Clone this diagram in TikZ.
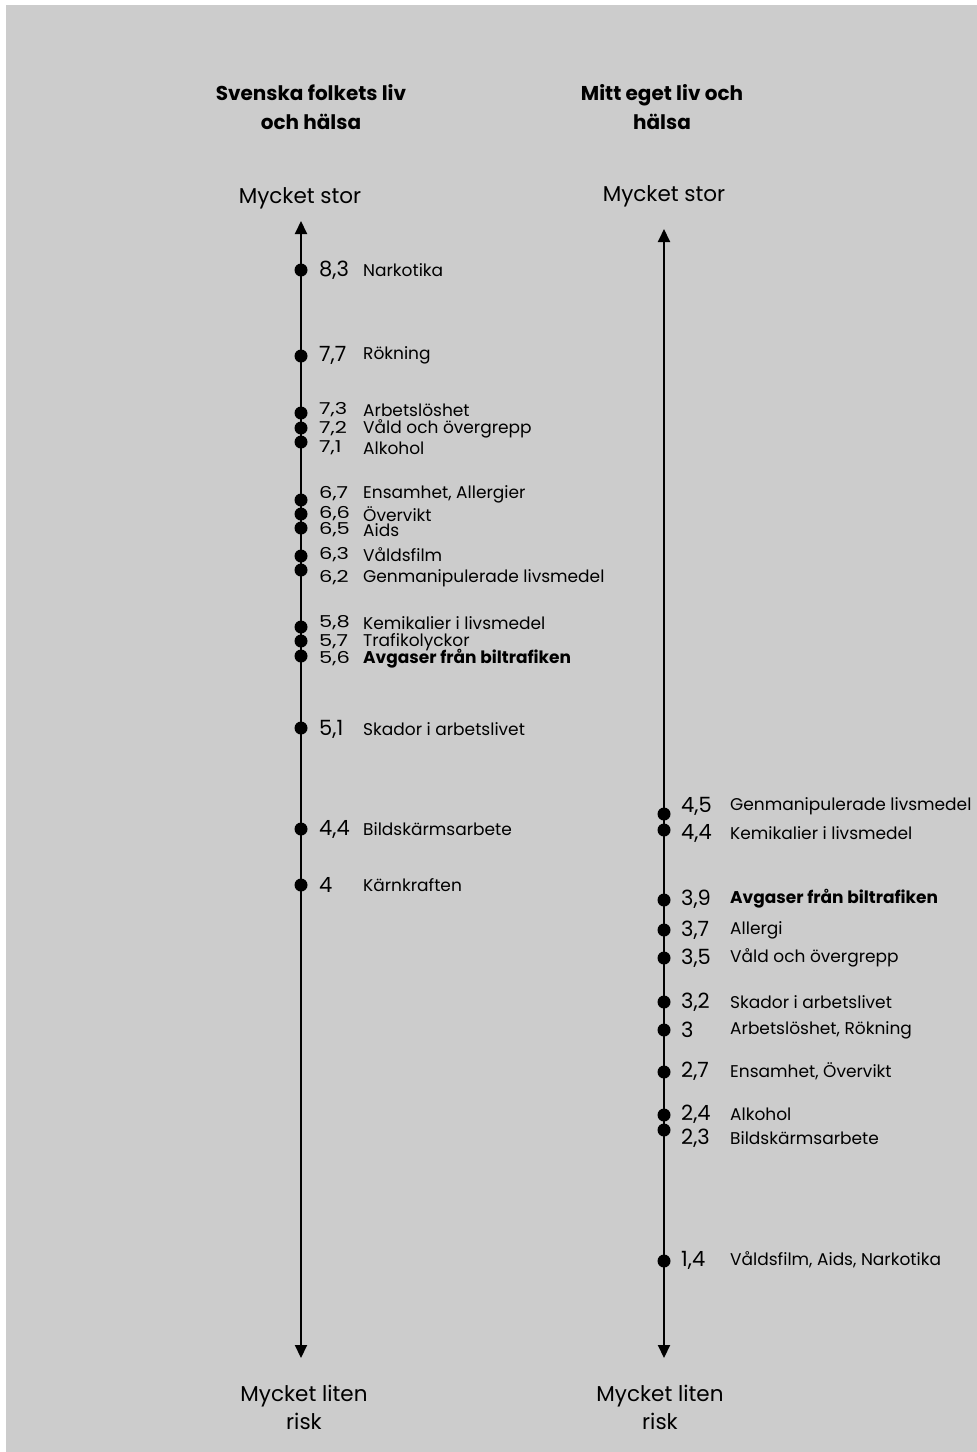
\documentclass[tikz,border=0pt]{standalone}
\usepackage{fontspec}
\setmainfont{Poppins}
\usetikzlibrary{arrows.meta}
\tikzset{
  dotn/.style={circle,fill=black,inner sep=0pt,minimum size=13pt},
  num/.style={anchor=west,inner sep=0pt,font=\fontsize{21}{22}\selectfont},
  lab/.style={anchor=west,inner sep=0pt,font=\fontsize{17}{18}\selectfont},
  labb/.style={anchor=west,inner sep=0pt,font=\fontsize{17}{18}\selectfont\bfseries},
  head/.style={align=center,inner sep=0pt,font=\fontsize{20}{29}\selectfont\bfseries},
  ends/.style={align=center,inner sep=0pt,font=\fontsize{21.5}{28}\selectfont},
  axis/.style={line width=2pt,{Triangle[length=13pt,width=12pt]}-{Triangle[length=13pt,width=12pt]}}
}
\newcommand{\fullnum}[1]{#1}
\newcommand{\tightnum}[1]{\scalebox{1}[0.78]{#1}}
\begin{document}
\begin{tikzpicture}[x=1pt,y=-1pt]
\useasboundingbox (0,0) rectangle (977,1452);
\fill[white] (0,0) rectangle (977,1452);
\fill[black!20] (6,5) rectangle (977,1452);

% headers
\node[head] (h1) at (311,107) {Svenska folkets liv\\och hälsa};
\node[head] (h2) at (662,107) {Mitt eget liv och\\hälsa};
\node[ends] (t1) at (300,198) {Mycket stor};
\node[ends] (t2) at (664,196) {Mycket stor};
\node[ends] (b1) at (304,1407) {Mycket liten\\risk};
\node[ends] (b2) at (660,1407) {Mycket liten\\risk};

% axes
\coordinate (a1t) at (301,221);
\coordinate (a1b) at (301,1358);
\coordinate (a2t) at (664,229);
\coordinate (a2b) at (664,1358);
\draw[axis] (a1t) -- (a1b);
\draw[axis] (a2t) -- (a2b);

% left column
\foreach \i/\dy/\ty/\n/\t/\s/\f in {
 1/270/270/{8,3}/{Narkotika}/lab/\fullnum,
 2/356/355/{7,7}/{Rökning}/lab/\fullnum,
 3/413/410/{7,3}/{Arbetslöshet}/lab/\tightnum,
 4/428/429/{7,2}/{Våld och övergrepp}/lab/\tightnum,
 5/442/448/{7,1}/{Alkohol}/lab/\tightnum,
 6/500/494/{6,7}/{Ensamhet, Allergier}/lab/\tightnum,
 7/514/514/{6,6}/{Övervikt}/lab/\tightnum,
 8/528/530/{6,5}/{Aids}/lab/\tightnum,
 9/556/555/{6,3}/{Våldsfilm}/lab/\tightnum,
 10/570/578/{6,2}/{Genmanipulerade livsmedel}/lab/\tightnum,
 11/627/623/{5,8}/{Kemikalier i livsmedel}/lab/\tightnum,
 12/641/642/{5,7}/{Trafikolyckor}/lab/\tightnum,
 13/656/659/{5,6}/{Avgaser från biltrafiken}/labb/\tightnum,
 14/728/729/{5,1}/{Skador i arbetslivet}/lab/\fullnum,
 15/829/829/{4,4}/{Bildskärmsarbete}/lab/\fullnum,
 16/885/885/4/{Kärnkraften}/lab/\fullnum}{
  \node[dotn] (ld\i) at (301,\dy) {};
  \node[num] (ln\i) at (319,\ty) {\f{\n}};
  \node[\s] (ll\i) at (363,\ty) {\t};
}

% right column
\foreach \i/\dy/\ty/\n/\t/\s in {
 1/814/806/{4,5}/{Genmanipulerade livsmedel}/lab,
 2/830/833/{4,4}/{Kemikalier i livsmedel}/lab,
 3/900/899/{3,9}/{Avgaser från biltrafiken}/labb,
 4/930/930/{3,7}/{Allergi}/lab,
 5/958/958/{3,5}/{Våld och övergrepp}/lab,
 6/1002/1002/{3,2}/{Skador i arbetslivet}/lab,
 7/1030/1030/3/{Arbetslöshet, Rökning}/lab,
 8/1072/1071/{2,7}/{Ensamhet, Övervikt}/lab,
 9/1115/1114/{2,4}/{Alkohol}/lab,
 10/1130/1138/{2,3}/{Bildskärmsarbete}/lab,
 11/1261/1260/{1,4}/{Våldsfilm, Aids, Narkotika}/lab}{
  \node[dotn] (rd\i) at (664,\dy) {};
  \node[num] (rn\i) at (681,\ty) {\n};
  \node[\s] (rl\i) at (730,\ty) {\t};
}
\end{tikzpicture}
\end{document}
